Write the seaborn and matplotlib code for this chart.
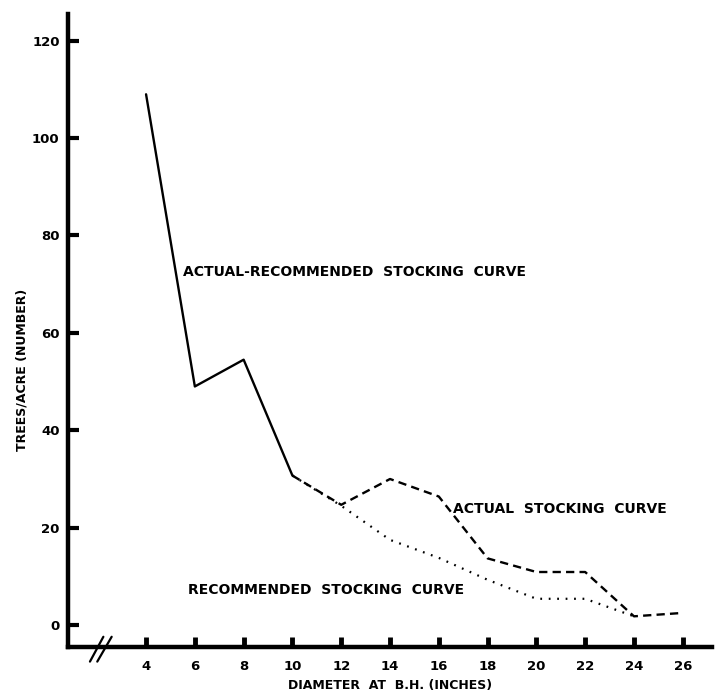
import pandas as pd
import matplotlib
matplotlib.use('Agg')
import matplotlib.pyplot as plt
import seaborn as sns

# --- Data ---
diam_common = [4, 6, 8, 10]
trees_common = [109, 49, 54.5, 30.7]

diam_actual = [10, 12, 14, 16, 18, 20, 22, 24, 26]
trees_actual = [30.7, 24.7, 30, 26.4, 13.7, 10.9, 10.9, 1.8, 2.5]

diam_rec = [10, 12, 14, 16, 18, 20, 22, 24]
trees_rec = [30.7, 24.5, 17.5, 13.8, 9.3, 5.4, 5.4, 1.8]

x_ticks = [4, 6, 8, 10, 12, 14, 16, 18, 20, 22, 24, 26]
y_ticks = [0, 20, 40, 60, 80, 100, 120]


def main():
    sns.set_style('ticks')
    plt.rcParams['font.family'] = ['DejaVu Sans']
    plt.rcParams['text.color'] = 'black'
    plt.rcParams['axes.labelcolor'] = 'black'
    plt.rcParams['xtick.color'] = 'black'
    plt.rcParams['ytick.color'] = 'black'

    df_common = pd.DataFrame({'diam': diam_common, 'trees': trees_common})
    df_actual = pd.DataFrame({'diam': diam_actual, 'trees': trees_actual})
    df_rec = pd.DataFrame({'diam': diam_rec, 'trees': trees_rec})

    fig = plt.figure(figsize=(7.18, 6.96), dpi=100)
    ax = fig.add_axes([0.0947, 0.0704, 0.897, 0.9096])

    sns.lineplot(data=df_common, x='diam', y='trees', ax=ax, color='black', lw=1.7)
    sns.lineplot(data=df_actual, x='diam', y='trees', ax=ax, color='black', lw=1.7,
                 linestyle=(0, (3.5, 2.2)))
    sns.lineplot(data=df_rec, x='diam', y='trees', ax=ax, color='black', lw=1.6,
                 linestyle=(0, (0.8, 3.0)))

    ax.set_xlim(0.8, 27.2)
    ax.set_ylim(-4.5, 125.5)
    ax.set_xticks(x_ticks)
    ax.set_yticks(y_ticks)

    sns.despine(ax=ax)
    for side in ['left', 'bottom']:
        ax.spines[side].set_linewidth(3.2)
        ax.spines[side].set_color('black')

    ax.tick_params(axis='y', direction='in', length=8, width=3, pad=6,
                   labelsize=9.5, colors='black')
    ax.tick_params(axis='x', direction='in', length=7, width=3.5, pad=9,
                   labelsize=9.5, colors='black')
    for lab in ax.get_xticklabels() + ax.get_yticklabels():
        lab.set_fontweight('bold')

    ax.set_xlabel('DIAMETER  AT  B.H. (INCHES)', fontsize=9, fontweight='bold')
    ax.set_ylabel('TREES/ACRE (NUMBER)', fontsize=9, fontweight='bold')
    ax.xaxis.set_label_coords(0.5, -0.05)
    ax.yaxis.set_label_coords(-0.062, 0.437)

    # axis break marks
    ax.plot([1.70, 2.25], [-7.5, -2.4], color='black', lw=1.6, clip_on=False)
    ax.plot([2.00, 2.59], [-7.5, -2.4], color='black', lw=1.6, clip_on=False)

    # curve labels
    lbl = dict(fontsize=10, fontweight='bold', va='center', ha='left', color='black')
    ax.text(5.5, 72.5, 'ACTUAL-RECOMMENDED  STOCKING  CURVE', **lbl)
    ax.text(16.6, 23.8, 'ACTUAL  STOCKING  CURVE', **lbl)
    ax.text(5.7, 7.2, 'RECOMMENDED  STOCKING  CURVE', **lbl)

    fig.savefig('out.png', dpi=100, facecolor='white')
    plt.close(fig)


if __name__ == '__main__':
    main()
